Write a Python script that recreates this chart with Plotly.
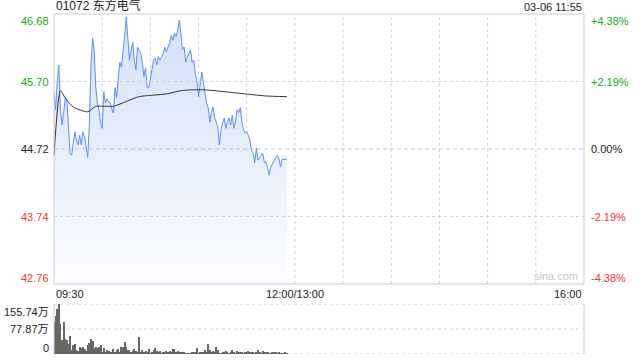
import plotly.graph_objects as go

# ---------------- data ----------------
title_text = "01072 东方电气"
stamp_text = "03-06 11:55"
prev_close = 44.72

# minutes since 09:30 (one per minute, 09:30 .. 11:55)
minutes = list(range(146))
price = [
    45.55, 45.29, 45.70, 45.94, 45.29, 45.07, 45.24, 45.46, 45.43, 45.00,
    44.66, 44.63, 44.81, 44.97, 44.85, 44.78, 44.92, 44.78, 44.97, 44.89,
    44.75, 44.60, 45.07, 45.91, 46.33, 46.16, 45.62, 45.40, 45.29, 45.10,
    45.02, 45.55, 45.39, 45.45, 45.40, 45.39, 45.30, 45.24, 45.61, 45.46,
    45.75, 45.98, 45.91, 46.11, 46.37, 46.64, 46.30, 46.01, 46.15, 46.27,
    46.01, 45.87, 46.20, 46.15, 46.11, 45.98, 45.77, 45.90, 45.61, 45.61,
    45.75, 45.90, 46.01, 46.04, 45.94, 46.06, 46.01, 46.06, 46.11, 46.20,
    46.13, 46.20, 46.26, 46.37, 46.30, 46.40, 46.35, 46.45, 46.59, 46.40,
    46.16, 46.20, 45.98, 46.06, 46.10, 46.16, 45.98, 46.01, 45.82, 45.70,
    45.48, 45.65, 45.84, 45.68, 45.50, 45.39, 45.32, 45.11, 45.25, 45.33,
    45.18, 45.10, 45.04, 44.78, 45.00, 45.10, 45.17, 45.02, 45.12, 45.17,
    45.07, 45.21, 45.02, 45.11, 45.29, 45.25, 45.32, 45.11, 45.00, 44.95,
    44.97, 44.92, 44.85, 44.70, 44.66, 44.52, 44.73, 44.56, 44.60, 44.62,
    44.66, 44.52, 44.53, 44.45, 44.34, 44.46, 44.50, 44.56, 44.60, 44.63,
    44.59, 44.46, 44.57, 44.57, 44.57, 44.57,
]

avg_minutes = [0, 4, 7, 12, 21, 26, 37, 45, 53, 70, 80, 93, 111, 132, 145]
avg_price = [44.63, 45.57, 45.46, 45.33, 45.26, 45.34, 45.34, 45.41, 45.48,
             45.52, 45.57, 45.58, 45.54, 45.49, 45.48]

# volume in 万 shares per minute
volume = [
    100, 119, 140, 156, 92, 45, 100, 47, 45, 32,
    55, 13, 29, 32, 12, 10, 23, 20, 21, 15,
    8, 29, 34, 47, 42, 18, 21, 20, 23, 29,
    4, 18, 7, 13, 10, 7, 6, 17, 7, 12,
    17, 7, 23, 23, 36, 21, 12, 12, 7, 10,
    15, 10, 5, 52, 7, 12, 7, 10, 7, 14,
    2, 7, 12, 18, 10, 7, 10, 2, 7, 4,
    10, 7, 10, 7, 14, 15, 4, 9, 7, 7,
    7, 5, 2, 2, 2, 1, 7, 7, 5, 20,
    2, 7, 7, 5, 12, 4, 32, 12, 4, 9,
    7, 23, 12, 2, 2, 4, 7, 9, 6, 2,
    6, 12, 4, 2, 10, 4, 7, 4, 2, 6,
    7, 9, 7, 6, 6, 2, 5, 12, 4, 2,
    10, 4, 7, 5, 2, 2, 4, 4, 7, 2,
    4, 2, 3, 2, 4, 2,
]

price_ticks = [46.68, 45.70, 44.72, 43.74, 42.76]
pct_ticks = ["+4.38%", "+2.19%", "0.00%", "-2.19%", "-4.38%"]
vol_ticks = [155.74, 77.87, 0]
vol_tick_labels = ["155.74万", "77.87万", "0"]
time_ticks = [0, 150, 330]
time_labels = ["09:30", "12:00/13:00", "16:00"]
grid_minutes = list(range(30, 330, 30))

# ---------------- figure ----------------
GREEN = "#1aa51a"
RED = "#f0372d"
BLACK = "#222222"
FONT = "Liberation Sans, Arial, Noto Sans CJK SC, sans-serif"

fig = go.Figure()

fig.add_trace(go.Scatter(
    x=minutes, y=price, mode="lines",
    line=dict(color="#5a8ff0", width=1),
    fill="tozeroy",
    fillgradient=dict(type="vertical",
                      colorscale=[[0, "rgba(251,252,255,1)"], [1, "rgba(210,225,249,1)"]],
                      start=42.76, stop=46.68),
    xaxis="x", yaxis="y", hoverinfo="skip", showlegend=False,
))
fig.add_trace(go.Scatter(
    x=avg_minutes, y=avg_price, mode="lines",
    line=dict(color="#333333", width=1, shape="spline", smoothing=0.6),
    xaxis="x", yaxis="y", hoverinfo="skip", showlegend=False,
))
fig.add_trace(go.Bar(
    x=minutes, y=volume, marker=dict(color="#666666", line=dict(width=0)),
    width=0.62, xaxis="x2", yaxis="y2", hoverinfo="skip", showlegend=False,
))

main_dom = [0.20588, 1.0]
vol_dom = [0.0, 0.147]

shapes = []
# vertical grid lines (main pane)
for m in grid_minutes:
    shapes.append(dict(type="line", xref="x", yref="paper", x0=m, x1=m,
                       y0=main_dom[0], y1=main_dom[1],
                       line=dict(color="#d0d0d0", width=1, dash="dot"), layer="below"))
# horizontal grid lines
for v in price_ticks[1:-1]:
    dash = "4px,3px" if v == prev_close else "dot"
    col = "#c4c4c4" if v == prev_close else "#d0d0d0"
    shapes.append(dict(type="line", xref="paper", yref="y", x0=0, x1=1, y0=v, y1=v,
                       line=dict(color=col, width=1, dash=dash), layer="above"))
# main pane border
shapes.append(dict(type="rect", xref="paper", yref="paper", x0=0, x1=1,
                   y0=main_dom[0], y1=main_dom[1],
                   line=dict(color="#cccccc", width=1), layer="above"))
# volume pane lines
for v in vol_ticks:
    shapes.append(dict(type="line", xref="paper", yref="y2", x0=0, x1=1, y0=v, y1=v,
                       line=dict(color="#cfcfcf", width=1, dash="dot"), layer="below"))
for xp in (0, 1):
    shapes.append(dict(type="line", xref="paper", yref="paper", x0=xp, x1=xp,
                       y0=vol_dom[0], y1=vol_dom[1],
                       line=dict(color="#cccccc", width=1), layer="above"))

ann = []
colors = [GREEN, GREEN, BLACK, RED, RED]
yshifts = [-7, 0, 0, 0, 6]
for v, lab, c, ys in zip(price_ticks, pct_ticks, colors, yshifts):
    ann.append(dict(xref="paper", yref="y", x=0, y=v, text=f"{v:.2f}", showarrow=False,
                    xanchor="right", yanchor="middle", xshift=-3, yshift=ys,
                    font=dict(color=c, size=11, family=FONT)))
    ann.append(dict(xref="paper", yref="y", x=1, y=v, text=lab, showarrow=False,
                    xanchor="left", yanchor="middle", xshift=5, yshift=ys,
                    font=dict(color=c, size=11, family=FONT)))
vys = [-8, 0, 6]
for v, lab, ys in zip(vol_ticks, vol_tick_labels, vys):
    ann.append(dict(xref="paper", yref="y2", x=0, y=v, text=lab, showarrow=False,
                    xanchor="right", yanchor="middle", xshift=-3, yshift=ys,
                    font=dict(color=BLACK, size=11, family=FONT)))
anchors = ["left", "center", "right"]
for t, lab, a in zip(time_ticks, time_labels, anchors):
    ann.append(dict(xref="x", yref="paper", x=t, y=main_dom[0], text=lab, showarrow=False,
                    xanchor=a, yanchor="top", yshift=-2,
                    font=dict(color=BLACK, size=11, family=FONT)))
ann.append(dict(xref="paper", yref="paper", x=0, y=1, text=title_text, showarrow=False,
                xanchor="left", yanchor="bottom", yshift=-1,
                font=dict(color=BLACK, size=12, family=FONT)))
ann.append(dict(xref="paper", yref="paper", x=1, y=1, text=stamp_text, showarrow=False,
                xanchor="right", yanchor="bottom", yshift=-1,
                font=dict(color=BLACK, size=11, family=FONT)))
ann.append(dict(xref="paper", yref="y", x=1, y=42.76, text="sina.com", showarrow=False,
                xanchor="right", yanchor="bottom", xshift=-4, yshift=0,
                font=dict(color="#c8c8c8", size=11, family=FONT)))

fig.update_layout(
    width=640, height=360,
    margin=dict(l=54, r=56, t=14, b=6),
    paper_bgcolor="white", plot_bgcolor="white",
    xaxis=dict(domain=[0, 1], range=[0, 330], showgrid=False, zeroline=False,
               showticklabels=False, anchor="y", fixedrange=True),
    yaxis=dict(domain=main_dom, range=[42.76, 46.68], showgrid=False, zeroline=False,
               showticklabels=False, anchor="x"),
    xaxis2=dict(domain=[0, 1], range=[0, 330], showgrid=False, zeroline=False,
                showticklabels=False, anchor="y2", matches="x"),
    yaxis2=dict(domain=vol_dom, range=[0, 155.74], showgrid=False, zeroline=False,
                showticklabels=False, anchor="x2"),
    bargap=0,
    shapes=shapes, annotations=ann,
    showlegend=False,
)

fig.write_html("out.html")
